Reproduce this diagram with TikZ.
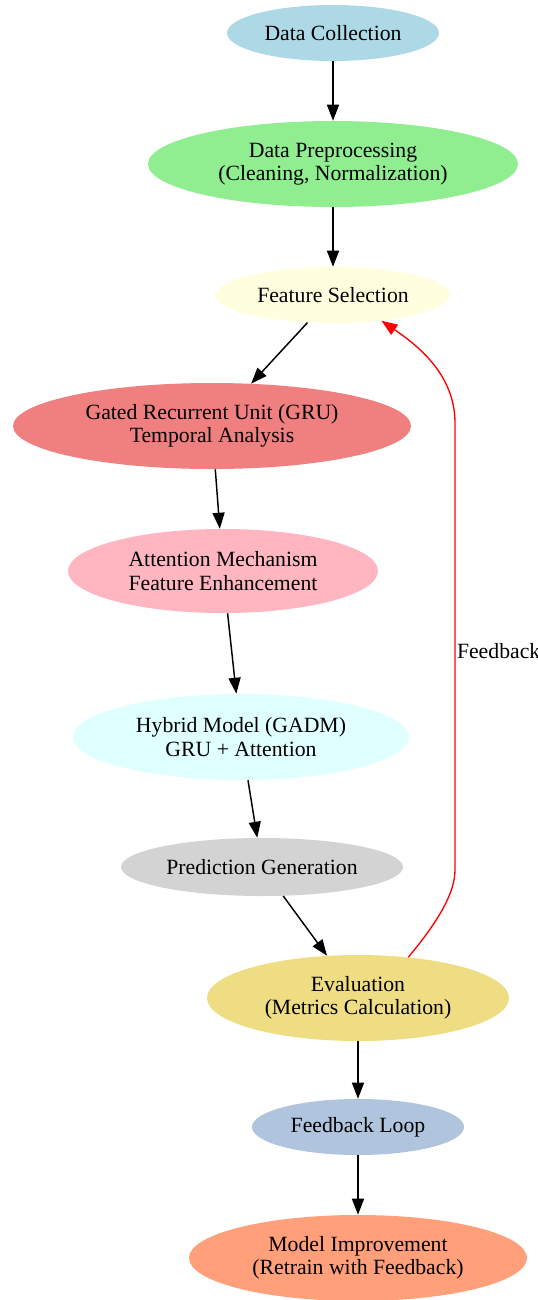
\documentclass[tikz,border=0pt]{standalone}
\usepackage{fontspec}
\setmainfont{Liberation Serif}
\usetikzlibrary{shapes.geometric,arrows.meta}

\definecolor{lblue}{HTML}{ADD8E6}
\definecolor{lgreen}{HTML}{90EE90}
\definecolor{lyellow}{HTML}{FFFFE0}
\definecolor{lcoral}{HTML}{F08080}
\definecolor{lpink}{HTML}{FFB6C1}
\definecolor{lcyan}{HTML}{E0FFFF}
\definecolor{lgrey}{HTML}{D3D3D3}
\definecolor{lgold}{HTML}{EEDD82}
\definecolor{lsteel}{HTML}{B0C4DE}
\definecolor{lsalmon}{HTML}{FFA07A}

\begin{document}
\begin{tikzpicture}[
    x=0.75pt, y=-0.75pt,
    stage/.style={ellipse, draw=none, inner sep=0pt, align=center,
      font=\fontsize{16.3pt}{17.5pt}\selectfont},
    oneline/.style={stage, minimum height=42pt},
    twoline/.style={stage, minimum height=64.5pt},
    flow/.style={-{Triangle[length=12pt,width=9pt]}, line width=1.1pt, black},
    back/.style={-{Triangle[length=12pt,width=9pt]}, line width=1pt, red},
  ]
  \useasboundingbox (0,0) rectangle (538,1300);

  % stages
  \node[oneline, fill=lblue, minimum width=159pt] (collect) at (333,33) {Data Collection};
  \node[twoline, fill=lgreen, minimum width=277.5pt] (prep) at (333,164)
    {Data Preprocessing\\(Cleaning, Normalization)};
  \node[oneline, fill=lyellow, minimum width=175.5pt] (select) at (333,295) {Feature Selection};
  \node[twoline, fill=lcoral, minimum width=298.5pt] (gru) at (212,426)
    {Gated Recurrent Unit (GRU)\\Temporal Analysis};
  \node[twoline, fill=lpink, minimum width=232.5pt, minimum height=63pt] (attn) at (223,571)
    {Attention Mechanism\\Feature Enhancement};
  \node[twoline, fill=lcyan, minimum width=252pt] (hybrid) at (241,737)
    {Hybrid Model (GADM)\\GRU + Attention};
  \node[oneline, fill=lgrey, minimum width=211.5pt, minimum height=43.5pt] (predict) at (262,867)
    {Prediction Generation};
  \node[twoline, fill=lgold, minimum width=226.5pt] (eval) at (358,998)
    {Evaluation\\(Metrics Calculation)};
  \node[oneline, fill=lsteel, minimum width=159pt] (loop) at (358,1127) {Feedback Loop};
  \node[twoline, fill=lsalmon, minimum width=253.5pt] (improve) at (358,1258)
    {Model Improvement\\(Retrain with Feedback)};

  % main flow
  \draw[flow] (collect) -- (prep);
  \draw[flow] (prep) -- (select);
  \draw[flow] (select) -- (gru);
  \draw[flow] (gru) -- (attn);
  \draw[flow] (attn) -- (hybrid);
  \draw[flow] (hybrid) -- (predict);
  \draw[flow] (predict) -- (eval);
  \draw[flow] (eval) -- (loop);
  \draw[flow] (loop) -- (improve);

  % feedback edge
  \coordinate (fblow) at (455,870);
  \coordinate (fbhigh) at (455,423);
  \draw[back] (eval.39) .. controls (435,925) and (455,895) .. (fblow)
    -- node[pos=0.49, anchor=west, inner sep=1pt, text=black,
            font=\fontsize{16.3pt}{17.5pt}\selectfont] (fblabel) {Feedback} (fbhigh)
    .. controls (455,376) and (420,347) .. (select.-28);
\end{tikzpicture}
\end{document}
